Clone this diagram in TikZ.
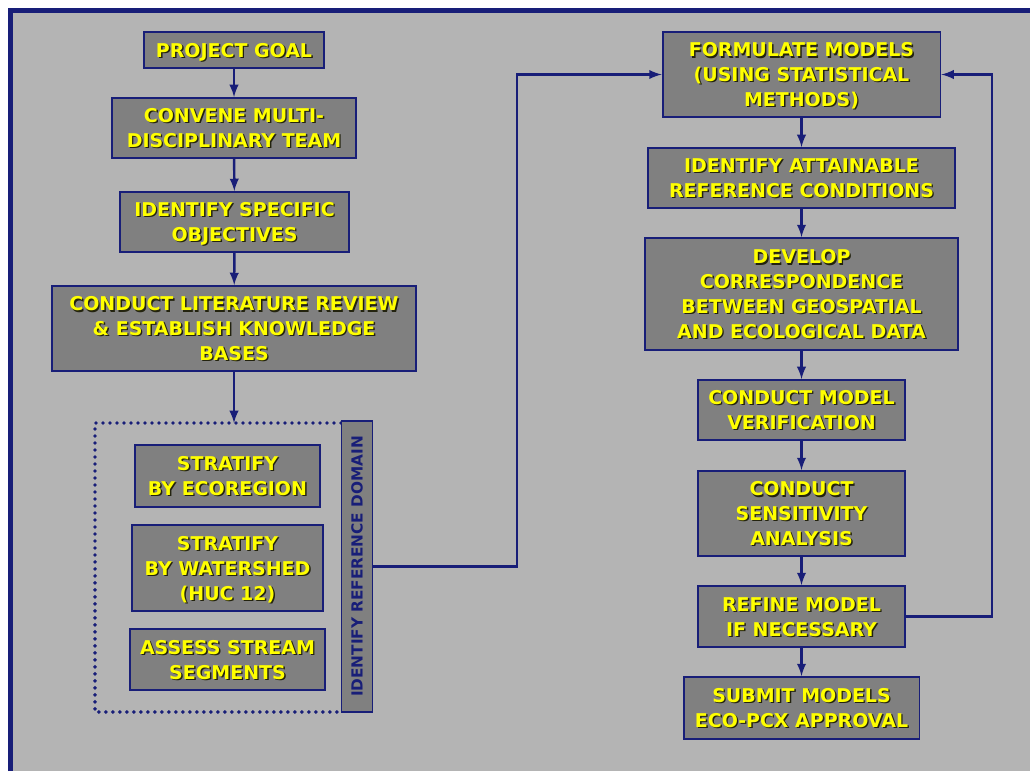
\documentclass[tikz,border=0pt]{standalone}
\usepackage{fontspec}
\setmainfont{DejaVu Sans}
\usepackage{xcolor}
\usetikzlibrary{arrows}

\definecolor{navy}{RGB}{24,30,120}
\definecolor{panel}{RGB}{180,180,180}
\definecolor{boxgray}{RGB}{128,128,128}
\definecolor{txtyellow}{RGB}{255,255,0}
\definecolor{txtshade}{RGB}{35,35,15}
% yellow text with a dark drop shadow
\newcommand\yshad[1]{\rlap{\kern0.8pt\raisebox{-0.8pt}{\color{txtshade}#1}}#1}

\begin{document}
\begin{tikzpicture}[x=0.02cm, y=-0.02cm,
    frame/.style = {
        navy,
        line width=3pt
    },
    stage/.style = {
        draw=navy,
        line width=1.1pt,
        fill=boxgray,
        text=txtyellow,
        font=\bfseries\fontsize{10.8}{14.2}\selectfont,
        align=center,
        text depth=0pt,
        inner sep=0pt
    },
    domainbar/.style = {
        draw=navy,
        line width=1.1pt,
        fill=boxgray,
        text=navy,
        font=\bfseries\fontsize{8.7}{10}\selectfont,
        rotate=90,
        inner sep=0pt
    },
    dotbox/.style = {
        navy,
        line width=2.2pt,
        line cap=round,
        dash pattern=on 0pt off 0.14cm
    },
    flow/.style={navy, line width=1.4pt, ->, >=latex}
]
    \useasboundingbox (0,0) rectangle (1030,771);
    % Panel
    \fill[panel] (10,10) rectangle (1030,771);
    \draw[frame] (10.5,771) -- (10.5,10.5) -- (1030,10.5);

    % Left column
    \node[stage, minimum width=3.6cm, minimum height=0.72cm] (goal) at (234,50)
        {\yshad{PROJECT GOAL}};
    \node[stage, minimum width=4.88cm, minimum height=1.2cm] (team) at (234,128)
        {\yshad{CONVENE MULTI-}\\\yshad{DISCIPLINARY TEAM}};
    \node[stage, minimum width=4.58cm, minimum height=1.2cm] (obj) at (234.5,222)
        {\yshad{IDENTIFY SPECIFIC}\\\yshad{OBJECTIVES}};
    \node[stage, minimum width=7.28cm, minimum height=1.7cm] (lit) at (234,328.5)
        {\yshad{CONDUCT LITERATURE REVIEW}\\\yshad{\& ESTABLISH KNOWLEDGE}\\\yshad{BASES}};

    % Reference domain group
    \draw[dotbox] (341,423) -- (95,423) -- (95,712) -- (341,712);
    \coordinate (dtop) at (234,423);
    \node[stage, minimum width=3.7cm, minimum height=1.24cm] (eco) at (227.5,476)
        {\yshad{STRATIFY}\\\yshad{BY ECOREGION}};
    \node[stage, minimum width=3.82cm, minimum height=1.72cm] (huc) at (227.5,568)
        {\yshad{STRATIFY}\\\yshad{BY WATERSHED}\\\yshad{(HUC 12)}};
    \node[stage, minimum width=3.9cm, minimum height=1.22cm] (seg) at (227.5,659.5)
        {\yshad{ASSESS STREAM}\\\yshad{SEGMENTS}};
    \node[domainbar, minimum width=5.82cm, minimum height=0.62cm] (dom) at (357,566.5)
        {IDENTIFY REFERENCE DOMAIN};

    % Right column
    \node[stage, minimum width=5.56cm, minimum height=1.7cm] (form) at (801.5,74.5)
        {\yshad{FORMULATE MODELS}\\\yshad{(USING STATISTICAL}\\\yshad{METHODS)}};
    \node[stage, minimum width=6.14cm, minimum height=1.2cm] (ref) at (801.5,178)
        {\yshad{IDENTIFY ATTAINABLE}\\\yshad{REFERENCE CONDITIONS}};
    \node[stage, minimum width=6.26cm, minimum height=2.24cm] (corr) at (801.5,294)
        {\yshad{DEVELOP}\\\yshad{CORRESPONDENCE}\\\yshad{BETWEEN GEOSPATIAL}\\\yshad{AND ECOLOGICAL DATA}};
    \node[stage, minimum width=4.14cm, minimum height=1.2cm] (verif) at (801.5,410)
        {\yshad{CONDUCT MODEL}\\\yshad{VERIFICATION}};
    \node[stage, minimum width=4.14cm, minimum height=1.7cm] (sens) at (801.5,513.5)
        {\yshad{CONDUCT}\\\yshad{SENSITIVITY}\\\yshad{ANALYSIS}};
    \node[stage, minimum width=4.14cm, minimum height=1.22cm] (refine) at (801.5,616.5)
        {\yshad{REFINE MODEL}\\\yshad{IF NECESSARY}};
    \node[stage, minimum width=4.72cm, minimum height=1.24cm] (submit) at (801.5,708)
        {\yshad{SUBMIT MODELS}\\\yshad{ECO-PCX APPROVAL}};

    % Connectors
    \draw[flow] (goal) -- (team);
    \draw[flow] (team) -- (obj);
    \draw[flow] (obj) -- (lit);
    \draw[flow] (lit) -- (dtop);
    \coordinate (turnA) at (517,0);
    \coordinate (turnB) at (992,0);
    \draw[flow] (dom) -- (dom -| turnA) |- (form.west);
    \draw[flow] (form) -- (ref);
    \draw[flow] (ref) -- (corr);
    \draw[flow] (corr) -- (verif);
    \draw[flow] (verif) -- (sens);
    \draw[flow] (sens) -- (refine);
    \draw[flow] (refine) -- (submit);
    \draw[flow] (refine.east) -- (refine.east -| turnB) |- (form.east);
\end{tikzpicture}
\end{document}
